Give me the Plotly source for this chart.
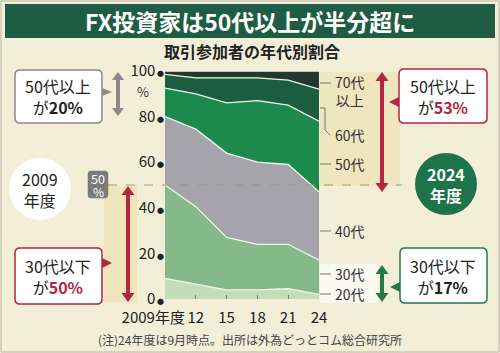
import plotly.graph_objects as go

# ---- data ----
years = [2009, 2012, 2015, 2018, 2021, 2024]
year_labels = ["2009年度\u00a0\u00a0\u00a0\u00a0\u00a0\u00a0\u00a0", "12", "15", "18", "21", "24"]
age_groups = ["20代", "30代", "40代", "50代", "60代", "70代以上"]
s20 = [9, 6.5, 4, 4, 4.5, 2]
s30 = [41, 34, 23, 20, 19.5, 15]
s40 = [30, 34, 37, 36, 35, 30]
s50 = [12.5, 15.5, 22, 27, 26, 31]
s60 = [6, 7, 11, 10, 11, 14]
s70 = [1.5, 3, 3, 3, 4, 8]
y_ticks = [0, 20, 40, 60, 80, 100]

series = [s20, s30, s40, s50, s60, s70]
colors = ["#c3dcba", "#86b98a", "#a4a4aa", "#1d8a4d", "#1a5e3f", "#21392e"]

W, H = 500, 353
FONT = "Noto Sans CJK JP"


def px(x):
    return x / W


def py(y):
    return 1 - y / H


fig = go.Figure()
for name, vals, col in zip(age_groups, series, colors):
    fig.add_trace(go.Scatter(
        x=years, y=vals, name=name, stackgroup="one", mode="lines",
        line=dict(color="#eef5ea", width=1.3), fillcolor=col,
        hoverinfo="x+y+name"))

shapes = []
ann = []

# outer border
shapes.append(dict(type="rect", xref="paper", yref="paper", x0=px(1), x1=px(499), y0=py(1), y1=py(352),
                   line=dict(color="#b9b6a8", width=1), layer="below"))
# title bar
shapes.append(dict(type="rect", xref="paper", yref="paper", x0=px(5), x1=px(495), y0=py(38), y1=py(4),
                   fillcolor="#1e5d43", line=dict(width=0), layer="below"))
# yellow highlight bands
shapes.append(dict(type="rect", xref="paper", yref="paper", x0=px(104), x1=px(137), y0=py(302), y1=py(186),
                   fillcolor="#e9d99a", opacity=0.45, line=dict(width=0), layer="below"))
shapes.append(dict(type="rect", xref="paper", yref="paper", x0=px(320), x1=px(400), y0=py(186), y1=py(72),
                   fillcolor="#e9d99a", opacity=0.4, line=dict(width=0), layer="below"))
shapes.append(dict(type="rect", xref="paper", yref="paper", x0=px(320), x1=px(378), y0=py(303), y1=py(264),
                   fillcolor="#fbfaf3", opacity=0.9, line=dict(width=0), layer="below"))
# 50% dashed line
shapes.append(dict(type="line", xref="paper", yref="y", x0=px(108), x1=px(402), y0=50, y1=50,
                   line=dict(color="#a09a78", width=1, dash="dash"), layer="above"))


def varrow(x, y1, y2, color, w=4, hw=13, hl=9):
    pts = [(x - w / 2, y1 + hl), (x - w / 2, y2 - hl), (x - hw / 2, y2 - hl), (x, y2),
           (x + hw / 2, y2 - hl), (x + w / 2, y2 - hl), (x + w / 2, y1 + hl),
           (x + hw / 2, y1 + hl), (x, y1), (x - hw / 2, y1 + hl)]
    path = "M " + " L ".join(f"{px(a):.5f},{py(b):.5f}" for a, b in pts) + " Z"
    shapes.append(dict(type="path", xref="paper", yref="paper", path=path,
                       fillcolor=color, line=dict(width=0)))


def poly(pts, color):
    path = "M " + " L ".join(f"{px(a):.5f},{py(b):.5f}" for a, b in pts) + " Z"
    shapes.append(dict(type="path", xref="paper", yref="paper", path=path,
                       fillcolor=color, line=dict(width=0)))


def rbox(x0, y0, x1, y1, border, fill="#ffffff", r=5, lw=1.5):
    p = (f"M {px(x0 + r)},{py(y0)} L {px(x1 - r)},{py(y0)} Q {px(x1)},{py(y0)} {px(x1)},{py(y0 + r)} "
         f"L {px(x1)},{py(y1 - r)} Q {px(x1)},{py(y1)} {px(x1 - r)},{py(y1)} "
         f"L {px(x0 + r)},{py(y1)} Q {px(x0)},{py(y1)} {px(x0)},{py(y1 - r)} "
         f"L {px(x0)},{py(y0 + r)} Q {px(x0)},{py(y0)} {px(x0 + r)},{py(y0)} Z")
    shapes.append(dict(type="path", xref="paper", yref="paper", path=p,
                       fillcolor=fill, line=dict(color=border, width=lw)))


def circle(cx, cy, r, fill):
    shapes.append(dict(type="circle", xref="paper", yref="paper",
                       x0=px(cx - r), x1=px(cx + r), y0=py(cy + r), y1=py(cy - r),
                       fillcolor=fill, line=dict(width=0)))


def text(x, y, t, size=14, color="#222", xanchor="center", bold=False):
    if bold:
        t = f"<b>{t}</b>"
    ann.append(dict(x=px(x), y=py(y), xref="paper", yref="paper", text=t, showarrow=False,
                    xanchor=xanchor, yanchor="middle", font=dict(family=FONT, size=size, color=color)))


def line(pts, color="#777", w=1):
    path = "M " + " L ".join(f"{px(a):.5f},{py(b):.5f}" for a, b in pts)
    shapes.append(dict(type="path", xref="paper", yref="paper", path=path,
                       line=dict(color=color, width=w)))


RED = "#b3263f"
GREEN = "#237a48"
GRAY = "#8a8a8a"

# left side
varrow(118, 72, 116, GRAY, w=4, hw=12, hl=8)
rbox(15, 70, 102, 123, GRAY)
poly([(102, 88), (102, 96), (112, 92)], GRAY)
text(58, 96, "50代以上<br>が<b>20%</b>", size=16, color="#222")

circle(40, 189, 31, "#ffffff")
text(40, 189, "2009<br>年度", size=16, color="#222")

rbox(88, 171, 108, 198, "#7a7a7a", fill="#7a7a7a", r=3, lw=0.5)
text(98, 179, "50", size=12.5, color="#ffffff")
text(98, 191, "%", size=12, color="#ffffff")

varrow(128, 186, 302, RED, w=4, hw=13, hl=9)
rbox(15, 248, 102, 304, RED)
poly([(102, 258), (102, 268), (112, 263)], RED)
text(58, 276, f"30代以下<br>が<b><span style='color:{RED}'>50%</span></b>", size=16, color="#222")

# right side
varrow(382, 72, 192, RED, w=4, hw=13, hl=9)
rbox(399, 69, 487, 123, RED)
poly([(399, 97), (399, 107), (389, 102)], RED)
text(443, 96, f"50代以上<br>が<b><span style='color:{RED}'>53%</span></b>", size=16, color="#222")

circle(446, 184, 31, "#1e744a")
text(446, 184, "<b>2024<br>年度</b>", size=16, color="#ffffff")

varrow(382, 265, 302, GREEN, w=4, hw=13, hl=9)
rbox(400, 248, 487, 303, GREEN)
poly([(400, 282), (400, 292), (390, 287)], GREEN)
text(443, 276, "30代以下<br>が<b>17%</b>", size=16, color="#222")

# right age labels with leaders
LBL = "#333333"
line([(320, 83), (331, 83)])
text(333, 91, "70代<br>以上", size=14, color=LBL, xanchor="left")
line([(320, 108), (325, 108), (325, 130), (330, 135)])
text(333, 135, "60代", size=14, color=LBL, xanchor="left")
line([(320, 164), (331, 164)])
text(333, 164, "50代", size=14, color=LBL, xanchor="left")
line([(320, 231), (331, 231)])
text(333, 231, "40代", size=14, color=LBL, xanchor="left")
line([(320, 274), (331, 274)])
text(333, 274, "30代", size=14, color=LBL, xanchor="left")
line([(320, 294), (331, 294)])
text(333, 294, "20代", size=14, color=LBL, xanchor="left")

# titles
text(250, 21, "FX投資家は50代以上が半分超に", size=23, color="#ffffff", bold=True)
text(252, 51, "取引参加者の年代別割合", size=16, color="#222", bold=True)
text(143, 91, "%", size=13, color="#333")
text(250, 339, "(注)24年度は9月時点。出所は外為どっとコム総合研究所", size=12, color="#444")

fig.update_layout(
    width=W, height=H, margin=dict(l=0, r=0, t=0, b=0, autoexpand=False),
    paper_bgcolor="#f3eed8", plot_bgcolor="#f3eed8",
    showlegend=False, shapes=shapes, annotations=ann,
    font=dict(family=FONT, color="#222"),
    xaxis=dict(domain=[px(165), px(319)], range=[2009, 2024], tickmode="array",
               tickvals=years, ticktext=year_labels, ticks="inside", ticklen=4,
               tickangle=0, tickcolor="#777", showgrid=False, zeroline=False, showline=False,
               automargin=False, ticklabelstandoff=8,
               tickfont=dict(size=15, color="#222"), fixedrange=True),
    yaxis=dict(domain=[py(299), py(71)], range=[0, 100], tickmode="array",
               tickvals=y_ticks, automargin=False,
               ticktext=[f"{v}<span style='font-size:7px'> ●</span>" for v in y_ticks],
               showgrid=False, zeroline=False, showline=False, ticks="",
               tickfont=dict(size=15, color="#222"), fixedrange=True),
)

fig.write_html("out.html")
